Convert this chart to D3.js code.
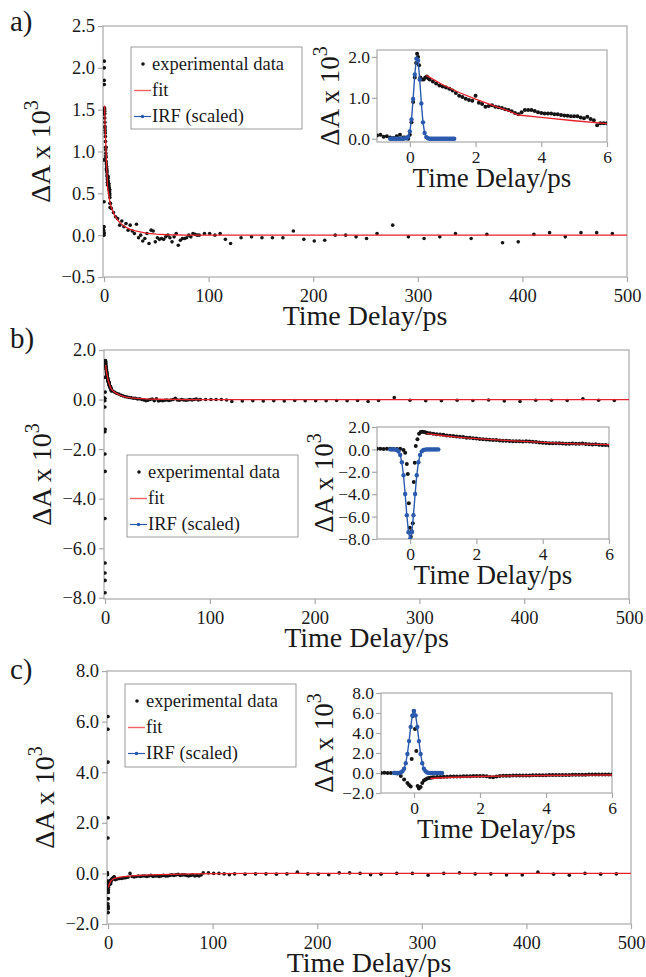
<!DOCTYPE html>
<html>
<head>
<meta charset="utf-8">
<script src="https://cdn.jsdelivr.net/npm/d3@7"></script>
<style>
  body { margin: 0; background: #fff; }
  svg { display: block; }
  text { font-family: "Liberation Serif", "Times New Roman", serif; fill: #1a1a1a; }
</style>
</head>
<body>
<svg id="fig" width="646" height="977"></svg>
<script>
// shared time grids (ps)
const earlyT = [-1.0, -0.9, -0.8, -0.7, -0.6, -0.5, -0.4, -0.3, -0.2];
const lateT = [0.6, 0.7, 0.8, 0.9,
  1.0, 1.1, 1.2, 1.3, 1.4, 1.5, 1.6, 1.7, 1.8, 1.9,
  2.0, 2.1, 2.2, 2.3, 2.4, 2.5, 2.6, 2.7, 2.8, 2.9,
  3.0, 3.1, 3.2, 3.3, 3.4, 3.5, 3.6, 3.7, 3.8, 3.9,
  4.0, 4.1, 4.2, 4.3, 4.4, 4.5, 4.6, 4.7, 4.8, 4.9,
  5.0, 5.1, 5.2, 5.3, 5.4, 5.5, 5.6, 5.7, 5.8, 5.9,
  6.0];
const tailT = [7, 9, 11, 13, 15, 17, 19, 21, 23, 25,
  27, 29, 31, 33, 35, 37, 39, 41, 43, 45,
  47, 49, 51, 53, 55, 57, 59, 61, 63, 65,
  67, 69, 71, 73, 75, 77, 79, 81, 83, 85,
  87, 89];
const sparseT = [91, 96, 101, 106, 111, 116,
  121, 131, 141, 151, 161, 171, 181, 191, 201, 211, 221, 231, 241, 251, 261,
  276, 291, 306, 321, 336, 351, 366, 381, 396, 411, 426, 441, 456, 471, 486];
const irfTA = [-0.6, -0.55, -0.5, -0.45, -0.4, -0.35, -0.3, -0.25, -0.2, -0.15,
  -0.1, -0.05, 0, 0.05, 0.1, 0.15, 0.2, 0.25, 0.3, 0.35,
  0.4, 0.45, 0.5, 0.55, 0.6, 0.65, 0.7, 0.75, 0.8, 0.85,
  0.9, 0.95, 1.0, 1.05, 1.1, 1.15, 1.2, 1.25, 1.3, 1.35];
const irfTBC = [-0.6, -0.55, -0.5, -0.45, -0.4, -0.35, -0.3, -0.25, -0.2, -0.15,
  -0.1, -0.05, 0, 0.05, 0.1, 0.15, 0.2, 0.25, 0.3, 0.35,
  0.4, 0.45, 0.5, 0.55, 0.6, 0.65, 0.7, 0.75, 0.8, 0.85];

// tick labels
const mainXTicks = [0, 100, 200, 300, 400, 500];
const insetXTicks = [0, 2, 4, 6];
const aYTicks = [-0.5, 0, 0.5, 1.0, 1.5, 2.0, 2.5];
const bYTicks = [-8, -6, -4, -2, 0, 2];
const cYTicks = [-2, 0, 2, 4, 6, 8];
const aInsetYTicks = [0, 1, 2];
const bInsetYTicks = [-8, -6, -4, -2, 0, 2];
const cInsetYTicks = [-2, 0, 2, 4, 6, 8];
const legendLabels = ["experimental data", "fit", "IRF (scaled)"];

// ---- panel a ----
const aEarly = [0.08, 0.1, 0.05, 0.06, 0.03, 0.02, 0.06, 0.1, 0.03];
const aPeak = [[-0.15, 0.03], [-0.1, 0.02], [-0.05, 0.0], [0.0, 0.1], [0.05, 0.4], [0.1, 0.9],
  [0.15, 1.5], [0.19, 1.85], [0.22, 2.08], [0.25, 2.0], [0.28, 1.8], [0.32, 1.5],
  [0.37, 1.45], [0.42, 1.45], [0.47, 1.5], [0.52, 1.52], [0.56, 1.48]];
const aLate = [1.45, 1.4, 1.35, 1.3,
  1.28, 1.25, 1.22, 1.18, 1.12, 1.05, 1.02, 0.98, 0.95, 0.93,
  1.05, 0.88, 0.85, 0.78, 0.8, 0.82, 0.78, 0.77, 0.75, 0.72,
  0.7, 0.67, 0.63, 0.6, 0.65, 0.7, 0.7, 0.7, 0.68, 0.65,
  0.63, 0.62, 0.62, 0.62, 0.6, 0.6, 0.58, 0.57, 0.56, 0.55,
  0.55, 0.55, 0.52, 0.5, 0.54, 0.48, 0.45, 0.33, 0.38, 0.38,
  0.38];
const aTail = [0.32, 0.27, 0.22, 0.2, 0.12, 0.17, 0.1, 0.14, 0.06, 0.12,
  0.05, 0.02, 0.13, -0.03, 0.0, -0.07, -0.04, 0.02, -0.1, 0.06,
  0.05, -0.08, -0.03, -0.05, -0.04, -0.05, -0.02, 0.0, -0.03, -0.08,
  -0.02, 0.02, -0.12, -0.06, -0.04, -0.04, -0.03, 0.0, -0.02, 0.02,
  0.01, 0.0];
const aSparse = [0.0, 0.02, 0.02, 0.0, 0.02, -0.05,
  -0.1, -0.03, -0.02, -0.03, -0.03, -0.03, 0.05, -0.05, -0.07, -0.06, 0.0, 0.0, -0.02, -0.04, 0.02,
  0.12, -0.02, -0.04, -0.02, 0.02, -0.04, 0.01, -0.09, -0.08, 0.01, 0.03, -0.02, 0.03, 0.03, 0.02];
const aFitT = [0.5, 1, 1.5, 2, 2.5, 3, 3.3, 4, 5, 6, 8, 10, 13, 16, 20, 25, 30, 40, 50, 60, 80, 100, 500];
const aFitV = [1.55, 1.32, 1.13, 0.97, 0.82, 0.68, 0.58, 0.52, 0.44, 0.37, 0.3, 0.24, 0.18, 0.14, 0.1, 0.07, 0.05, 0.025, 0.012, 0.005, 0.001, 0, 0];
const aIrf = [0, 0, 0, 0, 0, 0, 0, 0, 0, 0.01,
  0.01, 0.05, 0.18, 0.47, 0.97, 1.57, 1.96, 1.91, 1.45, 0.86,
  0.4, 0.14, 0.04, 0.01, 0, 0, 0, 0, 0, 0,
  0, 0, 0, 0, 0, 0, 0, 0, 0, 0];

// ---- panel b ----
const bEarly = [0.05, 0.05, 0.04, 0.05, 0.05, 0.04, 0.03, 0.05, -0.05];
const bPeak = [[-0.15, -0.3], [-0.1, -1.3], [-0.07, -2.2], [-0.04, -4.8], [-0.01, -7.0], [0.02, -7.8],
  [0.05, -7.3], [0.08, -6.6], [0.11, -2.9], [0.14, -1.2], [0.17, 0.3], [0.22, 0.9],
  [0.27, 1.4], [0.32, 1.55], [0.37, 1.57], [0.42, 1.55], [0.47, 1.5], [0.52, 1.47]];
const bLate = [1.45, 1.4, 1.35, 1.33,
  1.3, 1.25, 1.22, 1.2, 1.15, 1.12, 1.1, 1.05, 1.03, 1.0,
  0.98, 0.92, 0.9, 0.88, 0.87, 0.85, 0.83, 0.8, 0.78, 0.77,
  0.75, 0.73, 0.72, 0.72, 0.7, 0.72, 0.7, 0.68, 0.65, 0.62,
  0.6, 0.58, 0.56, 0.56, 0.55, 0.55, 0.52, 0.5, 0.5, 0.52,
  0.5, 0.5, 0.52, 0.48, 0.45, 0.44, 0.45, 0.42, 0.4, 0.4,
  0.35];
const bTail = [0.35, 0.3, 0.25, 0.22, 0.18, 0.15, 0.12, 0.1, 0.08, 0.07,
  0.05, 0.05, 0.02, 0.03, 0.0, -0.02, -0.05, -0.03, 0.0, 0.02,
  -0.05, 0.03, -0.06, -0.04, -0.05, -0.03, -0.02, -0.04, -0.02, 0.0,
  0.05, -0.02, -0.03, 0.0, -0.02, -0.03, -0.02, 0.0, -0.02, 0.0,
  0.02, -0.02];
const bSparse = [0.0, 0.0, 0.0, 0.0, 0.0, -0.02,
  -0.08, -0.06, -0.05, -0.06, -0.05, -0.06, -0.04, -0.05, -0.05, -0.05, -0.04, -0.05, -0.04, -0.08, -0.04,
  0.08, -0.03, -0.05, -0.05, -0.03, -0.04, -0.02, -0.06, -0.08, -0.03, -0.03, -0.04, 0.03, -0.03, -0.04];
const bFitT = [0.5, 1, 1.5, 2, 3, 4, 5, 6, 8, 10, 13, 16, 20, 25, 30, 40, 50, 60, 80, 100, 500];
const bFitV = [1.4, 1.22, 1.08, 0.96, 0.78, 0.63, 0.5, 0.42, 0.33, 0.27, 0.2, 0.15, 0.1, 0.07, 0.05, 0.025, 0.012, 0.005, 0.001, 0, 0];
const bIrf = [0, 0, 0, -0.02, -0.06, -0.18, -0.49, -1.15, -2.31, -3.98,
  -5.87, -7.4, -8.0, -7.4, -5.87, -3.98, -2.31, -1.15, -0.49, -0.18,
  -0.06, -0.02, 0, 0, 0, 0, 0, 0, 0, 0];

// ---- panel c ----
const cEarly = [0.0, 0.02, 0.0, 0.0, 0.02, -0.05, -0.3, -0.65, -1.0];
const cPeak = [[-0.15, -1.2], [-0.1, -1.35], [-0.07, 1.4], [-0.04, 5.7], [-0.01, 6.2], [0.03, 4.4],
  [0.07, 2.2], [0.11, -1.3], [0.15, -1.55], [0.2, -1.4], [0.25, -1.0], [0.3, -0.75],
  [0.35, -0.65], [0.4, -0.55], [0.45, -0.5], [0.5, -0.47], [0.55, -0.45]];
const cLate = [-0.42, -0.4, -0.4, -0.38,
  -0.37, -0.36, -0.35, -0.35, -0.34, -0.33, -0.33, -0.32, -0.3, -0.3,
  -0.3, -0.3, -0.32, -0.4, -0.42, -0.35, -0.3, -0.28, -0.27, -0.27,
  -0.26, -0.26, -0.25, -0.25, -0.24, -0.24, -0.23, -0.23, -0.22, -0.22,
  -0.22, -0.21, -0.21, -0.2, -0.2, -0.2, -0.19, -0.19, -0.18, -0.18,
  -0.18, -0.17, -0.17, -0.16, -0.16, -0.16, -0.15, -0.15, -0.15, -0.14,
  -0.14];
const cTail = [-0.25, -0.22, -0.2, -0.2, -0.18, -0.17, -0.15, 0.0, -0.12, -0.14,
  -0.12, -0.1, -0.12, -0.1, -0.1, -0.12, -0.1, -0.08, -0.12, -0.1,
  -0.1, -0.12, -0.1, -0.08, -0.1, -0.1, -0.08, -0.06, -0.08, -0.06,
  -0.04, -0.08, -0.06, -0.06, -0.08, -0.1, -0.08, -0.06, -0.1, -0.08,
  -0.1, -0.06];
const cSparse = [0.02, 0.02, 0.0, 0.0, -0.02, -0.05,
  -0.02, -0.03, -0.02, -0.02, -0.03, -0.02, 0.05, -0.02, -0.03, -0.05, 0.02, 0.02, 0.0, -0.05, -0.03,
  0.0, 0.0, -0.07, 0.0, 0.02, -0.02, -0.02, -0.06, -0.06, 0.05, -0.03, -0.07, 0.0, -0.03, -0.02];
const cFitT = [0.5, 1, 2, 3, 4, 5, 6, 8, 10, 15, 20, 30, 40, 60, 80, 100, 150, 500];
const cFitV = [-0.55, -0.45, -0.35, -0.29, -0.25, -0.22, -0.2, -0.18, -0.16, -0.13, -0.11, -0.08, -0.06, -0.04, -0.02, -0.01, 0, 0];
const cIrf = [0, 0, 0, 0.01, 0.05, 0.17, 0.43, 0.98, 1.9, 3.19,
  4.61, 5.76, 6.2, 5.76, 4.61, 3.19, 1.9, 0.98, 0.43, 0.17,
  0.05, 0.01, 0, 0, 0, 0, 0, 0, 0, 0];

// colours
const frameCol = "#a9a9a9";
const fitCol = "#e4222a";
const irfCol = "#2a5aad";
const dotCol = "#141414";

const zip = (t, v) => t.map((d, i) => [d, v[i]]).filter(d => d[1] !== undefined);

const panels = [
  { id: "a", label: "a)", labelY: 31,
    box: [103, 26, 627, 277], yDomain: [-0.5, 2.5], yTicks: aYTicks,
    inset: [377, 50, 607, 142], insetY: [-0.08, 2.17], insetYTicks: aInsetYTicks, insetTitleX: 339,
    legend: [131, 47, 302, 129],
    early: aEarly, peak: aPeak, late: aLate, tail: aTail, sparse: aSparse,
    fitT: aFitT, fitV: aFitV, irfT: irfTA, irfV: aIrf },
  { id: "b", label: "b)", labelY: 348,
    box: [104, 350, 629, 599], yDomain: [-8.05, 2.0], yTicks: bYTicks,
    inset: [377, 427, 609, 539], insetY: [-8, 2], insetYTicks: bInsetYTicks, insetTitleX: 333,
    legend: [127, 455, 298, 537],
    early: bEarly, peak: bPeak, late: bLate, tail: bTail, sparse: bSparse,
    fitT: bFitT, fitV: bFitV, irfT: irfTBC, irfV: bIrf },
  { id: "c", label: "c)", labelY: 679,
    box: [107, 671, 631, 924], yDomain: [-2, 8], yTicks: cYTicks,
    inset: [381, 693, 612, 793], insetY: [-2, 8], insetYTicks: cInsetYTicks, insetTitleX: 333,
    legend: [125, 684, 296, 767],
    early: cEarly, peak: cPeak, late: cLate, tail: cTail, sparse: cSparse,
    fitT: cFitT, fitV: cFitV, irfT: irfTBC, irfV: cIrf }
];

const svg = d3.select("#fig");
const defs = svg.append("defs");

// frame, ticks and tick labels for one plot area
function drawFrame(g, x, y, box, xTicks, yTicks, fs, pad) {
  g.append("rect")
    .attr("x", box[0]).attr("y", box[1])
    .attr("width", box[2] - box[0]).attr("height", box[3] - box[1])
    .attr("fill", "#fff").attr("stroke", frameCol).attr("stroke-width", 1.2);

  const xa = g.append("g")
    .attr("transform", `translate(0,${box[3]})`)
    .call(d3.axisBottom(x).tickValues(xTicks).tickFormat(d3.format("d")).tickSize(5).tickPadding(pad[0]));
  const ya = g.append("g")
    .attr("transform", `translate(${box[0]},0)`)
    .call(d3.axisLeft(y).tickValues(yTicks).tickFormat(d3.format(".1f")).tickSize(5).tickPadding(pad[1]));
  [xa, ya].forEach(a => {
    a.select(".domain").remove();
    a.attr("font-size", fs).attr("font-family", '"Liberation Serif", serif');
    a.selectAll("line").attr("stroke", frameCol).attr("stroke-width", 1.2);
    a.selectAll("text").attr("fill", "#1a1a1a");
  });
}

function yTitle(g, xPos, yPos, fs) {
  const t = g.append("text")
    .attr("transform", `translate(${xPos},${yPos}) rotate(-90)`)
    .attr("text-anchor", "middle")
    .attr("font-size", fs);
  t.append("tspan").text("ΔA x 10");
  t.append("tspan").attr("font-size", 20).attr("dy", -12).text("3");
}

function clip(id, box) {
  defs.append("clipPath").attr("id", id)
    .append("rect")
    .attr("x", box[0]).attr("y", box[1])
    .attr("width", box[2] - box[0]).attr("height", box[3] - box[1]);
  return `url(#${id})`;
}

panels.forEach(p => {
  const g = svg.append("g");
  const early = zip(earlyT, p.early).concat(p.peak, zip(lateT, p.late));
  const allExp = early.concat(zip(tailT, p.tail), zip(sparseT, p.sparse));
  const fit = zip(p.fitT, p.fitV);
  const irf = zip(p.irfT, p.irfV);

  // panel letter
  g.append("text").attr("x", 10).attr("y", p.labelY).attr("font-size", 29).text(p.label);

  // main plot
  const x = d3.scaleLinear().domain([-1, 500]).range([p.box[0], p.box[2]]);
  const y = d3.scaleLinear().domain(p.yDomain).range([p.box[3], p.box[1]]);
  drawFrame(g, x, y, p.box, mainXTicks, p.yTicks, 18.5, [7, 3]);

  const main = g.append("g").attr("clip-path", clip("clipMain" + p.id, p.box));
  main.selectAll("circle").data(allExp).join("circle")
    .attr("cx", d => x(d[0])).attr("cy", d => y(d[1]))
    .attr("r", 1.8).attr("fill", dotCol);
  main.append("path").datum(fit)
    .attr("d", d3.line().x(d => x(d[0])).y(d => y(d[1])))
    .attr("fill", "none").attr("stroke", fitCol).attr("stroke-width", 1.3);

  g.append("text")
    .attr("x", (p.box[0] + p.box[2]) / 2).attr("y", p.box[3] + 48)
    .attr("text-anchor", "middle").attr("font-size", 28)
    .text("Time Delay/ps");
  yTitle(g, p.box[0] - 53, (p.box[1] + p.box[3]) / 2, 28);

  // legend
  const L = p.legend;
  const lg = g.append("g");
  lg.append("rect").attr("x", L[0]).attr("y", L[1])
    .attr("width", L[2] - L[0]).attr("height", L[3] - L[1])
    .attr("fill", "#fff").attr("stroke", "#9a9a9a").attr("stroke-width", 1);
  const rows = [L[1] + 17, L[1] + 43.5, L[1] + 69.5];
  lg.append("circle").attr("cx", L[0] + 12).attr("cy", rows[0]).attr("r", 1.8).attr("fill", dotCol);
  lg.append("line").attr("x1", L[0] + 3).attr("x2", L[0] + 20).attr("y1", rows[1]).attr("y2", rows[1])
    .attr("stroke", "#f06464").attr("stroke-width", 1.4);
  lg.append("line").attr("x1", L[0] + 3).attr("x2", L[0] + 20).attr("y1", rows[2]).attr("y2", rows[2])
    .attr("stroke", irfCol).attr("stroke-width", 1.2);
  lg.append("circle").attr("cx", L[0] + 11.5).attr("cy", rows[2]).attr("r", 1.8).attr("fill", irfCol);
  legendLabels.forEach((s, i) => {
    lg.append("text").attr("x", L[0] + (i === 0 ? 21 : 21)).attr("y", rows[i] + 5.5)
      .attr("font-size", 18.5).text(s);
  });

  // inset
  const B = p.inset;
  const xi = d3.scaleLinear().domain([-1, 6]).range([B[0], B[2]]);
  const yi = d3.scaleLinear().domain(p.insetY).range([B[3], B[1]]);
  drawFrame(g, xi, yi, B, insetXTicks, p.insetYTicks, 17.5, [4, 2]);

  const ins = g.append("g").attr("clip-path", clip("clipInset" + p.id, B));
  ins.selectAll("circle.exp").data(early).join("circle").attr("class", "exp")
    .attr("cx", d => xi(d[0])).attr("cy", d => yi(d[1]))
    .attr("r", 2).attr("fill", dotCol);
  ins.append("path").datum(fit)
    .attr("d", d3.line().x(d => xi(d[0])).y(d => yi(d[1])))
    .attr("fill", "none").attr("stroke", fitCol).attr("stroke-width", 1.3);
  ins.append("path").datum(irf)
    .attr("d", d3.line().x(d => xi(d[0])).y(d => yi(d[1])))
    .attr("fill", "none").attr("stroke", irfCol).attr("stroke-width", 1.4);
  ins.selectAll("circle.irf").data(irf).join("circle").attr("class", "irf")
    .attr("cx", d => xi(d[0])).attr("cy", d => yi(d[1]))
    .attr("r", 2.2).attr("fill", irfCol);

  g.append("text")
    .attr("x", (B[0] + B[2]) / 2).attr("y", B[3] + 45)
    .attr("text-anchor", "middle").attr("font-size", 27)
    .text("Time Delay/ps");
  yTitle(g, p.insetTitleX, (B[1] + B[3]) / 2, 27);
});
</script>
</body>
</html>
